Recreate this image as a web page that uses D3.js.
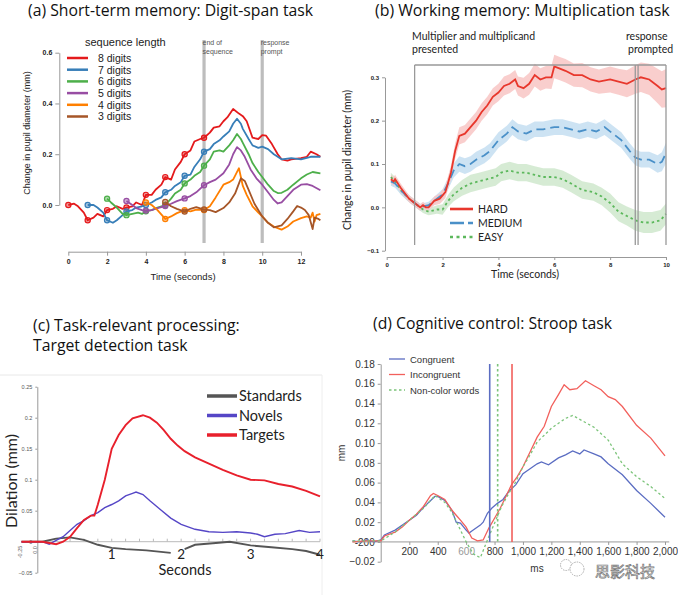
<!DOCTYPE html>
<html>
<head>
<meta charset="utf-8">
<script src="https://cdn.jsdelivr.net/npm/d3@7"></script>
<style>
  body { margin: 0; background: #fff; }
  .axis path, .axis line { stroke: #999; }
  .title { font-family: "Open Sans", Lato, sans-serif; font-size: 15px; fill: #111; }
  .cal { font-family: Lato, "Open Sans", sans-serif; fill: #222; }
  .arial { font-family: "Liberation Sans", Arial, sans-serif; }
</style>
</head>
<body>
<div id="chart"></div>
<script>
// ---------- data ----------
// (a) digit span: [seconds, mm]
var digit8 = [[0,0.0],[0.3,0.005],[0.5,-0.005],[0.8,-0.03],[1,-0.06],[1.3,-0.05],[1.5,-0.035],[1.8,-0.045],[2,-0.02],[2.3,-0.015],[2.5,-0.005],[2.8,-0.015],[3,-0.01],[3.3,-0.005],[3.5,0.01],[3.8,0.0],[4,0.04],[4.3,0.04],[4.5,0.06],[4.8,0.08],[5,0.11],[5.3,0.1],[5.5,0.14],[5.8,0.17],[6,0.2],[6.3,0.215],[6.5,0.25],[6.8,0.26],[7,0.265],[7.3,0.285],[7.5,0.305],[7.8,0.31],[8,0.33],[8.2,0.345],[8.5,0.378],[8.8,0.36],[9,0.35],[9.2,0.33],[9.5,0.265],[9.8,0.26],[10,0.275],[10.2,0.273],[10.5,0.24],[10.8,0.2],[11,0.18],[11.3,0.175],[11.5,0.18],[12,0.185],[12.3,0.19],[12.5,0.21],[12.8,0.2],[13,0.19]];
var digit7 = [[1,0.0],[1.3,0.0],[1.5,-0.01],[1.8,-0.03],[2,-0.06],[2.3,-0.07],[2.5,-0.06],[2.8,-0.04],[3,-0.025],[3.3,-0.02],[3.5,-0.01],[3.8,-0.005],[4,0.0],[4.3,0.01],[4.5,0.02],[4.8,0.03],[5,0.05],[5.3,0.06],[5.5,0.075],[5.8,0.09],[6,0.115],[6.3,0.12],[6.5,0.15],[6.8,0.18],[7,0.21],[7.3,0.22],[7.5,0.24],[7.8,0.255],[8,0.27],[8.3,0.29],[8.5,0.32],[8.7,0.34],[8.9,0.32],[9,0.3],[9.3,0.26],[9.5,0.235],[9.8,0.225],[10,0.23],[10.3,0.22],[10.6,0.2],[11,0.18],[11.5,0.185],[12,0.18],[12.5,0.19],[13,0.19]];
var digit6 = [[2,0.025],[2.2,0.01],[2.5,-0.01],[2.8,-0.035],[3,-0.04],[3.3,-0.035],[3.6,-0.03],[3.8,-0.035],[4,-0.025],[4.3,-0.02],[4.6,-0.01],[5,0.0],[5.3,0.025],[5.5,0.045],[5.8,0.06],[6,0.085],[6.3,0.1],[6.5,0.115],[6.8,0.13],[7,0.155],[7.3,0.18],[7.5,0.21],[7.8,0.215],[8,0.21],[8.3,0.235],[8.5,0.255],[8.7,0.28],[8.9,0.26],[9,0.245],[9.3,0.2],[9.5,0.165],[9.8,0.13],[10,0.11],[10.3,0.08],[10.6,0.055],[10.8,0.047],[11,0.048],[11.3,0.06],[11.6,0.08],[12,0.105],[12.3,0.12],[12.6,0.13],[13,0.125]];
var digit5 = [[3,0.016],[3.3,0.0],[3.5,-0.012],[3.8,-0.02],[4,-0.022],[4.3,-0.02],[4.6,-0.012],[5,-0.004],[5.3,0.005],[5.6,0.015],[6,0.026],[6.3,0.035],[6.6,0.05],[7,0.078],[7.3,0.09],[7.6,0.1],[8,0.125],[8.3,0.16],[8.5,0.2],[8.7,0.228],[8.9,0.215],[9.1,0.19],[9.4,0.14],[9.7,0.105],[10,0.08],[10.3,0.05],[10.6,0.02],[10.8,0.006],[11,0.01],[11.3,0.035],[11.6,0.06],[12,0.08],[12.3,0.082],[12.6,0.075],[13,0.058]];
var digit4 = [[4,0.01],[4.3,0.0],[4.6,-0.02],[5,-0.055],[5.3,-0.045],[5.6,-0.032],[6,-0.02],[6.3,-0.025],[6.6,-0.018],[7,-0.02],[7.3,-0.005],[7.6,0.03],[8,0.08],[8.3,0.09],[8.5,0.1],[8.8,0.145],[9,0.075],[9.2,0.04],[9.5,-0.005],[9.8,-0.03],[10,-0.045],[10.3,-0.07],[10.6,-0.085],[11,-0.097],[11.3,-0.085],[11.6,-0.065],[12,-0.052],[12.3,-0.045],[12.5,-0.05],[12.6,-0.03],[12.7,-0.065],[12.8,-0.04],[13,-0.035]];
var digit3 = [[5,0.012],[5.3,-0.005],[5.6,-0.015],[6,-0.026],[6.3,-0.015],[6.6,-0.008],[7,-0.018],[7.3,-0.02],[7.6,-0.028],[8,-0.012],[8.3,0.01],[8.6,0.045],[8.9,0.105],[9.1,0.095],[9.3,0.06],[9.6,0.005],[10,-0.045],[10.3,-0.07],[10.6,-0.088],[11,-0.08],[11.3,-0.055],[11.6,-0.025],[11.8,-0.004],[12,-0.01],[12.2,-0.02],[12.4,-0.04],[12.6,-0.095],[12.7,-0.05],[12.9,-0.055],[13,-0.06]];
var digitNames = ["8 digits","7 digits","6 digits","5 digits","4 digits","3 digits"];
var digitStarts = [0,1,2,3,4,5];
var digitEnd = 7;
var digitEvents = [7,10];

// (b) multiplication: [seconds, mm, band half-width]
var hard = [[0.15,0.065,0.01],[0.25,0.06,0.01],[0.3,0.065,0.01],[0.5,0.045,0.01],[0.8,0.02,0.008],[1.0,0.01,0.008],[1.2,0.0,0.008],[1.3,0.005,0.008],[1.4,0.0,0.008],[1.5,0.0,0.008],[1.7,0.015,0.01],[1.9,0.02,0.012],[2.1,0.035,0.014],[2.3,0.08,0.016],[2.45,0.13,0.018],[2.6,0.165,0.02],[2.8,0.17,0.02],[3.0,0.185,0.02],[3.2,0.2,0.02],[3.4,0.22,0.02],[3.6,0.235,0.02],[3.8,0.255,0.02],[4.0,0.265,0.02],[4.2,0.28,0.022],[4.4,0.285,0.022],[4.6,0.295,0.022],[4.7,0.28,0.022],[4.9,0.275,0.024],[5.1,0.285,0.025],[5.3,0.305,0.026],[5.5,0.295,0.026],[5.7,0.3,0.026],[5.9,0.3,0.027],[6.0,0.325,0.027],[6.2,0.32,0.027],[6.4,0.315,0.027],[6.7,0.305,0.027],[7.0,0.305,0.028],[7.3,0.295,0.028],[7.6,0.29,0.028],[8.0,0.295,0.03],[8.3,0.29,0.03],[8.6,0.285,0.031],[8.9,0.295,0.033],[9.1,0.3,0.034],[9.4,0.295,0.036],[9.7,0.28,0.04],[9.85,0.272,0.042],[10,0.275,0.044]];
var medium = [[0.15,0.06,0.01],[0.3,0.055,0.01],[0.5,0.04,0.01],[0.8,0.02,0.008],[1.0,0.01,0.008],[1.2,0.0,0.008],[1.5,0.005,0.008],[1.8,0.02,0.01],[2.0,0.03,0.012],[2.2,0.055,0.014],[2.4,0.085,0.016],[2.6,0.1,0.018],[2.8,0.095,0.018],[3.0,0.1,0.018],[3.2,0.11,0.018],[3.5,0.12,0.018],[3.7,0.13,0.018],[4.0,0.155,0.018],[4.3,0.17,0.018],[4.5,0.185,0.018],[4.7,0.175,0.018],[5.0,0.17,0.018],[5.3,0.18,0.018],[5.6,0.18,0.018],[6.0,0.185,0.018],[6.3,0.185,0.018],[6.6,0.18,0.018],[6.9,0.175,0.018],[7.2,0.18,0.018],[7.5,0.175,0.018],[7.8,0.185,0.018],[8.1,0.17,0.018],[8.4,0.155,0.018],[8.7,0.13,0.018],[8.9,0.115,0.018],[9.1,0.11,0.018],[9.4,0.11,0.018],[9.7,0.1,0.02],[9.85,0.105,0.022],[10,0.125,0.024]];
var easy = [[0.15,0.07,0.01],[0.3,0.06,0.01],[0.5,0.04,0.01],[0.8,0.02,0.008],[1.0,0.01,0.008],[1.3,-0.005,0.008],[1.5,-0.01,0.008],[1.8,-0.005,0.01],[2.0,-0.005,0.012],[2.2,0.015,0.014],[2.4,0.03,0.016],[2.7,0.045,0.018],[3.0,0.055,0.02],[3.3,0.06,0.02],[3.6,0.065,0.02],[3.9,0.07,0.02],[4.1,0.08,0.02],[4.4,0.085,0.02],[4.7,0.08,0.02],[5.0,0.08,0.02],[5.3,0.075,0.02],[5.6,0.07,0.02],[6.0,0.07,0.02],[6.3,0.065,0.02],[6.6,0.055,0.02],[7.0,0.04,0.02],[7.4,0.035,0.02],[7.7,0.025,0.02],[8.0,0.01,0.022],[8.3,-0.01,0.022],[8.6,-0.02,0.022],[8.9,-0.03,0.024],[9.2,-0.035,0.024],[9.5,-0.035,0.024],[9.8,-0.03,0.024],[10,-0.015,0.024]];
var diffNames = ["HARD","MEDIUM","EASY"];
var multEvents = [1, 8.9, 9.0, 10];

// (c) target detection: [seconds, mm]
var targets = [[-0.3,0.0],[-0.1,0.0],[0,0.0],[0.1,-0.002],[0.2,-0.004],[0.3,0.0],[0.4,0.008],[0.5,0.022],[0.6,0.035],[0.7,0.042],[0.75,0.042],[0.8,0.06],[0.9,0.1],[1.0,0.15],[1.1,0.172],[1.2,0.188],[1.3,0.199],[1.45,0.204],[1.55,0.2],[1.65,0.192],[1.75,0.18],[1.85,0.166],[1.95,0.155],[2.05,0.146],[2.2,0.136],[2.4,0.126],[2.6,0.116],[2.8,0.107],[3.0,0.1],[3.2,0.099],[3.4,0.093],[3.6,0.089],[3.8,0.082],[4.0,0.073]];
var novels = [[-0.3,0.0],[0,0.0],[0.1,-0.004],[0.2,0.002],[0.3,0.008],[0.4,0.018],[0.5,0.028],[0.6,0.034],[0.7,0.042],[0.8,0.047],[0.9,0.055],[1.0,0.06],[1.1,0.066],[1.2,0.074],[1.3,0.078],[1.35,0.08],[1.45,0.076],[1.55,0.066],[1.7,0.052],[1.85,0.038],[2.0,0.028],[2.2,0.02],[2.4,0.016],[2.6,0.015],[2.8,0.016],[3.0,0.014],[3.1,0.012],[3.2,0.008],[3.35,0.012],[3.5,0.013],[3.7,0.018],[3.85,0.015],[4.0,0.016]];
var standards = [[-0.3,0.0],[0,0.0],[0.2,0.005],[0.4,0.007],[0.6,0.003],[0.8,-0.005],[1.0,-0.01],[1.2,-0.012],[1.5,-0.014],[1.85,-0.018],[1.95,NaN],[2.05,-0.012],[2.2,-0.005],[2.5,-0.002],[2.7,0.0],[3.0,-0.006],[3.3,-0.009],[3.6,-0.012],[3.8,-0.015],[4.0,-0.021]];
var stimNames = ["Standards","Novels","Targets"];

// (d) stroop: [ms, mm]
var congruent = [[-200,0.001],[-150,0.0],[-100,0.002],[-50,0.0],[0,0.002],[25,0.007],[100,0.012],[200,0.022],[250,0.027],[300,0.035],[380,0.046],[400,0.046],[450,0.042],[500,0.032],[530,0.02],[560,0.019],[600,0.012],[620,0.009],[650,0.012],[700,0.017],[720,0.02],[750,0.029],[780,0.034],[820,0.039],[860,0.043],[900,0.051],[950,0.058],[1000,0.069],[1050,0.074],[1100,0.079],[1130,0.081],[1180,0.078],[1250,0.085],[1300,0.088],[1350,0.092],[1400,0.089],[1430,0.093],[1500,0.089],[1550,0.086],[1600,0.079],[1700,0.068],[1800,0.052],[1900,0.039],[2000,0.025]];
var incongruent = [[-200,0.0],[-100,0.001],[0,0.001],[25,0.006],[100,0.01],[150,0.015],[200,0.022],[250,0.028],[300,0.036],[350,0.047],[370,0.049],[400,0.047],[450,0.043],[500,0.032],[530,0.027],[560,0.022],[600,0.015],[640,0.004],[680,0.001],[720,0.002],[760,0.014],[800,0.024],[840,0.034],[880,0.046],[920,0.058],[960,0.066],[1000,0.076],[1050,0.091],[1100,0.106],[1150,0.117],[1200,0.137],[1250,0.149],[1290,0.159],[1330,0.154],[1380,0.155],[1440,0.163],[1500,0.158],[1550,0.154],[1600,0.147],[1650,0.144],[1700,0.137],[1800,0.118],[1900,0.105],[2000,0.087]];
var noncolor = [[-200,0.001],[-100,0.001],[0,0.001],[100,0.01],[200,0.022],[300,0.034],[380,0.047],[450,0.04],[500,0.03],[550,0.015],[600,0.0],[650,-0.012],[700,-0.016],[750,0.002],[800,0.019],[850,0.036],[900,0.049],[950,0.061],[1000,0.076],[1050,0.088],[1100,0.101],[1150,0.108],[1200,0.115],[1250,0.12],[1300,0.125],[1350,0.128],[1400,0.124],[1450,0.12],[1500,0.116],[1600,0.103],[1700,0.079],[1800,0.066],[1900,0.056],[2000,0.044]];
var stroopNames = ["Congruent","Incongruent","Non-color words"];
// response times, in series order: congruent, incongruent, non-color
var stroopRT = [766, 923, 822];
var stroopYTicks = [-0.02,0,0.02,0.04,0.06,0.08,0.10,0.12,0.14,0.16,0.18];
var stroopYLabels = ["\u22120.02","-200","0.02","0.04","0.06","0.08","0.10","0.12","0.14","0.16","0.18"];

var titles = ["(a) Short-term memory: Digit-span task", "(b) Working memory: Multiplication task",
              "(c) Task-relevant processing:", "Target detection task", "(d) Cognitive control: Stroop task"];

// ---------- svg ----------
var svg = d3.select("#chart").append("svg")
    .attr("width", 678).attr("height", 595)
    .style("background", "#fff");

// titles, sized to the width they take in the source figure
function title(txt, x, y, w) {
  var t = svg.append("text").attr("class","title").attr("x",x).attr("y",y).text(txt);
  if (w) {
    var len = t.node().getComputedTextLength();
    t.style("font-size", (15 * w / len).toFixed(2) + "px");
  }
  return t;
}
var tc = title(titles[2], 33, 331, 207);
title(titles[0], 28, 16, 285);
title(titles[1], 375, 16, 295);
title(titles[3], 33, 351).style("font-size", tc.style("font-size"));
title(titles[4], 373, 329, 239);

// ================= panel (a) =================
var ga = svg.append("g");
var xa = d3.scaleLinear().domain([0,12]).range([68.3,301]);
var ya = d3.scaleLinear().domain([0,0.6]).range([205,52.7]);
var colA = ["#e41a1c","#377eb8","#4daf4a","#984ea3","#ff7f00","#a65628"];
var seriesA = [digit8, digit7, digit6, digit5, digit4, digit3];

ga.append("g").attr("class","axis arial").attr("transform","translate(59.3,0)")
  .call(d3.axisLeft(ya).tickValues([0,0.2,0.4,0.6]).tickFormat(d3.format(".1f")).tickSize(4).tickSizeOuter(0))
  .selectAll("text").style("font-size","7px").style("font-weight","bold").attr("fill","#222");
ga.append("g").attr("class","axis arial").attr("transform","translate(0,251.7)")
  .call(d3.axisBottom(xa).tickValues([0,2,4,6,8,10,12]).tickSize(4).tickSizeOuter(0))
  .selectAll("text").style("font-size","7px").style("font-weight","bold").attr("fill","#222");

ga.selectAll("rect.evt").data(digitEvents).enter().append("rect")
  .attr("x", function(d){ return xa(d) - 1.6; }).attr("width", 3.2)
  .attr("y", 40).attr("height", 203).attr("fill","#bdbdbd");
[["end of","sequence"],["response","prompt"]].forEach(function(lab, i){
  lab.forEach(function(s, j){
    ga.append("text").attr("class","arial").attr("x", xa(digitEvents[i]) - 1.5).attr("y", 45 + j*8.5)
      .style("font-size","7px").attr("fill","#555").text(s);
  });
});

var lineA = d3.line().x(function(d){ return xa(d[0]); }).y(function(d){ return ya(d[1]); });
seriesA.forEach(function(s, i){
  ga.append("path").datum(s).attr("d", lineA).attr("fill","none")
    .attr("stroke", colA[i]).attr("stroke-width", 1.8).attr("stroke-linejoin","round");
  var marks = s.filter(function(d){ return d[0] === Math.round(d[0]) && d[0] >= digitStarts[i] && d[0] <= digitEnd; });
  ga.selectAll(null).data(marks).enter().append("circle")
    .attr("cx", function(d){ return xa(d[0]); }).attr("cy", function(d){ return ya(d[1]); })
    .attr("r", 2.6).attr("fill", colA[i]).attr("fill-opacity", 0.45)
    .attr("stroke", colA[i]).attr("stroke-width", 1.2);
});

ga.append("text").attr("class","arial").attr("x",85).attr("y",46).style("font-size","11px").attr("fill","#222").text("sequence length");
digitNames.forEach(function(n, i){
  var yy = 58 + i*11.7;
  ga.append("line").attr("x1",67).attr("x2",88).attr("y1",yy).attr("y2",yy).attr("stroke",colA[i]).attr("stroke-width",2.5);
  ga.append("text").attr("class","arial").attr("x",98).attr("y",yy+3.8).style("font-size","10.5px").attr("fill","#222").text(n);
});
ga.append("text").attr("class","arial").attr("x",183).attr("y",280).attr("text-anchor","middle")
  .style("font-size","9.5px").attr("fill","#222").text("Time (seconds)");
ga.append("text").attr("class","arial").attr("transform","translate(30,133) rotate(-90)").attr("text-anchor","middle")
  .style("font-size","9px").attr("fill","#222").text("Change in pupil diameter (mm)");

// ================= panel (b) =================
var gb = svg.append("g");
var xb = d3.scaleLinear().domain([0,10]).range([386.7,666]);
var yb = d3.scaleLinear().domain([-0.1,0.3]).range([250.7,77.3]);
var colB = ["#e8372c","#4a90c8","#5cb85c"];
var bandB = ["#f8c6c4","#c4def1","#cfe8cc"];
var dashB = [null, "9,5", "2.5,3"];
var seriesB = [hard, medium, easy];

gb.append("g").attr("class","axis arial").attr("transform","translate(385,0)")
  .call(d3.axisLeft(yb).tickValues([-0.1,0,0.1,0.2,0.3]).tickFormat(d3.format(".1f")).tickSize(3).tickSizeOuter(0))
  .selectAll("text").style("font-size","6px").style("font-weight","bold").attr("fill","#222");
gb.append("g").attr("class","axis arial").attr("transform","translate(0,257)")
  .call(d3.axisBottom(xb).tickValues([0,2,4,6,8,10]).tickSize(3).tickSizeOuter(0))
  .selectAll("text").style("font-size","6px").style("font-weight","bold").attr("fill","#222");

var areaB = d3.area().x(function(d){ return xb(d[0]); })
  .y0(function(d){ return yb(d[1] - d[2]); }).y1(function(d){ return yb(d[1] + d[2]); });
var lineB = d3.line().x(function(d){ return xb(d[0]); }).y(function(d){ return yb(d[1]); });
[2,1,0].forEach(function(i){
  gb.append("path").datum(seriesB[i]).attr("d", areaB).attr("fill", bandB[i]).attr("fill-opacity", 0.85);
});
[2,1,0].forEach(function(i){
  gb.append("path").datum(seriesB[i]).attr("d", lineB).attr("fill","none")
    .attr("stroke", colB[i]).attr("stroke-width", 1.8).attr("stroke-dasharray", dashB[i]);
});

gb.selectAll("line.evt").data(multEvents).enter().append("line")
  .attr("x1", function(d){ return xb(d); }).attr("x2", function(d){ return xb(d); })
  .attr("y1", 65).attr("y2", 245).attr("stroke","#999").attr("stroke-width",1.3);
gb.append("line").attr("x1", xb(1)).attr("x2", xb(10)).attr("y1", 65).attr("y2", 65)
  .attr("stroke","#999").attr("stroke-width",1.3);

gb.append("text").attr("class","cal").attr("x",412).attr("y",40).style("font-size","10.5px").text("Multiplier and multiplicand");
gb.append("text").attr("class","cal").attr("x",412).attr("y",53).style("font-size","10.5px").text("presented");
gb.append("text").attr("class","cal").attr("x",626).attr("y",40).style("font-size","10.5px").text("response");
gb.append("text").attr("class","cal").attr("x",628).attr("y",53).style("font-size","10.5px").text("prompted");

diffNames.forEach(function(n, i){
  var yy = 209 + i*14;
  gb.append("line").attr("x1",450).attr("x2",473).attr("y1",yy).attr("y2",yy)
    .attr("stroke",colB[i]).attr("stroke-width",2.6).attr("stroke-dasharray", dashB[i] ? (i === 1 ? "14,4" : "3,3.5") : null);
  gb.append("text").attr("class","cal").attr("x",478).attr("y",yy+3.6).style("font-size","10.5px").attr("fill","#333").text(n);
});
gb.append("text").attr("class","cal").attr("x",525).attr("y",278).attr("text-anchor","middle")
  .style("font-size","10.5px").text("Time (seconds)");
gb.append("text").attr("class","cal").attr("transform","translate(351,160) rotate(-90)").attr("text-anchor","middle")
  .style("font-size","10.5px").text("Change in pupil diameter (mm)");

// ================= panel (c) =================
var gc = svg.append("g");
var xc = d3.scaleLinear().domain([0,4]).range([42.3,320]);
var yc = d3.scaleLinear().domain([-0.05,0.25]).range([572.7,386.7]);
var colC = ["#555555","#5546c6","#e8202c"];
var seriesC = [standards, novels, targets];

gc.append("line").attr("x1",0).attr("x2",322).attr("y1",375).attr("y2",375).attr("stroke","#e8e8e8");
gc.append("line").attr("x1",322).attr("x2",322).attr("y1",375).attr("y2",595).attr("stroke","#eeeeee");

var yAxC = gc.append("g").attr("class","axis arial").attr("transform","translate(37.3,0)")
  .call(d3.axisLeft(yc).tickValues([-0.05,0,0.05,0.1,0.15,0.2,0.25]).tickFormat(d3.format("")).tickSize(2).tickSizeOuter(0));
yAxC.selectAll("path, line").attr("stroke","#ccc");
yAxC.selectAll("text").style("font-size","5.5px").attr("fill","#555");
gc.append("text").attr("class","arial").attr("transform","translate(22,552) rotate(-90)").attr("text-anchor","middle")
  .style("font-size","5.5px").attr("fill","#666").text("-0.25");
gc.append("text").attr("class","arial").attr("transform","translate(37,550) rotate(-90)").attr("text-anchor","middle")
  .style("font-size","5.5px").attr("fill","#666").text("0.0");

gc.append("line").attr("x1",37.3).attr("x2",xc(4)).attr("y1",yc(0)).attr("y2",yc(0)).attr("stroke","#bbb");
gc.selectAll("line.mt").data(d3.range(1,21)).enter().append("line")
  .attr("x1", function(d){ return xc(d*0.2); }).attr("x2", function(d){ return xc(d*0.2); })
  .attr("y1", yc(0)).attr("y2", yc(0) - 3).attr("stroke","#bbb");

var lineC = d3.line().defined(function(d){ return !isNaN(d[1]); })
  .x(function(d){ return xc(d[0]); }).y(function(d){ return yc(d[1]); });
seriesC.forEach(function(s, i){
  gc.append("path").datum(s).attr("d", lineC).attr("fill","none")
    .attr("stroke", colC[i]).attr("stroke-width", i === 1 ? 1.4 : 1.9);
});

gc.selectAll("text.xl").data([1,2,3,4]).enter().append("text").attr("class","cal")
  .attr("x", function(d){ return xc(d); }).attr("y", 559).attr("text-anchor","middle")
  .style("font-size","13.5px").attr("fill","#333").text(function(d){ return d; });
gc.append("text").attr("class","cal").attr("x",185).attr("y",575).attr("text-anchor","middle")
  .style("font-size","14.5px").attr("fill","#333").text("Seconds");
gc.append("text").attr("class","cal").attr("transform","translate(17,481) rotate(-90)").attr("text-anchor","middle")
  .style("font-size","16px").attr("fill","#222").text("Dilation (mm)");

stimNames.forEach(function(n, i){
  var yy = 396 + i*19.5;
  gc.append("line").attr("x1",207).attr("x2",237).attr("y1",yy).attr("y2",yy).attr("stroke",colC[i]).attr("stroke-width",3.5);
  gc.append("text").attr("class","cal").attr("x",239).attr("y",yy+5).style("font-size","14.5px").attr("fill","#333").text(n);
});

// ================= panel (d) =================
var gd = svg.append("g");
var xd = d3.scaleLinear().domain([0,2000]).range([380.9,665]);
var yd = d3.scaleLinear().domain([-0.02,0.18]).range([561.7,364]);
var colD = ["#5b6dc2","#f2605c","#7cc47a"];
var dashD = [null, null, "2.5,2.5"];
var seriesD = [congruent, incongruent, noncolor];

var yAxD = gd.append("g").attr("class","axis arial").attr("transform","translate(380.7,0)")
  .call(d3.axisLeft(yd).tickValues(stroopYTicks).tickFormat(function(d, i){ return stroopYLabels[i]; }).tickSize(3).tickSizeOuter(0));
yAxD.selectAll("text").style("font-size","10px").attr("fill","#333");

gd.append("line").attr("x1", xd(-200)).attr("x2", xd(2030)).attr("y1", yd(0)).attr("y2", yd(0)).attr("stroke","#999");
var xAxD = gd.append("g").attr("class","axis arial").attr("transform","translate(0," + yd(0) + ")")
  .call(d3.axisBottom(xd).tickValues(d3.range(200,2001,200)).tickFormat(d3.format(",")).tickSize(3).tickSizeOuter(0));
xAxD.select(".domain").remove();
xAxD.selectAll("text").style("font-size","10px").attr("fill", function(d){ return d === 600 ? "#999" : "#333"; });

var lineD = d3.line().x(function(d){ return xd(d[0]); }).y(function(d){ return yd(d[1]); });
seriesD.forEach(function(s, i){
  gd.append("path").datum(s).attr("d", lineD).attr("fill","none")
    .attr("stroke", colD[i]).attr("stroke-width", 1.3).attr("stroke-dasharray", dashD[i]);
});
stroopRT.forEach(function(t, i){
  gd.append("line").attr("x1", xd(t)).attr("x2", xd(t)).attr("y1", yd(0.18)).attr("y2", yd(0))
    .attr("stroke", colD[i]).attr("stroke-width", 1.6).attr("stroke-dasharray", dashD[i]);
});

stroopNames.forEach(function(n, i){
  var yy = 359 + i*15.5;
  gd.append("line").attr("x1",389).attr("x2",405).attr("y1",yy).attr("y2",yy)
    .attr("stroke",colD[i]).attr("stroke-width",1.3).attr("stroke-dasharray", dashD[i]);
  gd.append("text").attr("class","arial").attr("x",410).attr("y",yy+3.5).style("font-size","9.5px").attr("fill","#333").text(n);
});
gd.append("text").attr("class","arial").attr("x",537).attr("y",572).attr("text-anchor","middle")
  .style("font-size","10px").attr("fill","#333").text("ms");
gd.append("text").attr("class","arial").attr("transform","translate(345,453) rotate(-90)").attr("text-anchor","middle")
  .style("font-size","10px").attr("fill","#333").text("mm");

// watermark
gd.append("circle").attr("cx",566).attr("cy",565).attr("r",5.5).attr("fill","none").attr("stroke","#999").attr("stroke-width",0.8).attr("stroke-dasharray","1.5,1");
gd.append("circle").attr("cx",577).attr("cy",569).attr("r",7).attr("fill","#fff").attr("stroke","#999").attr("stroke-width",0.8).attr("stroke-dasharray","1.5,1");
gd.append("text").attr("x",595).attr("y",577).style("font-family","'Noto Sans CJK SC', sans-serif")
  .style("font-size","15px").attr("fill","#fff").attr("stroke","#777").attr("stroke-width",0.7).text("思影科技");
</script>
</body>
</html>
